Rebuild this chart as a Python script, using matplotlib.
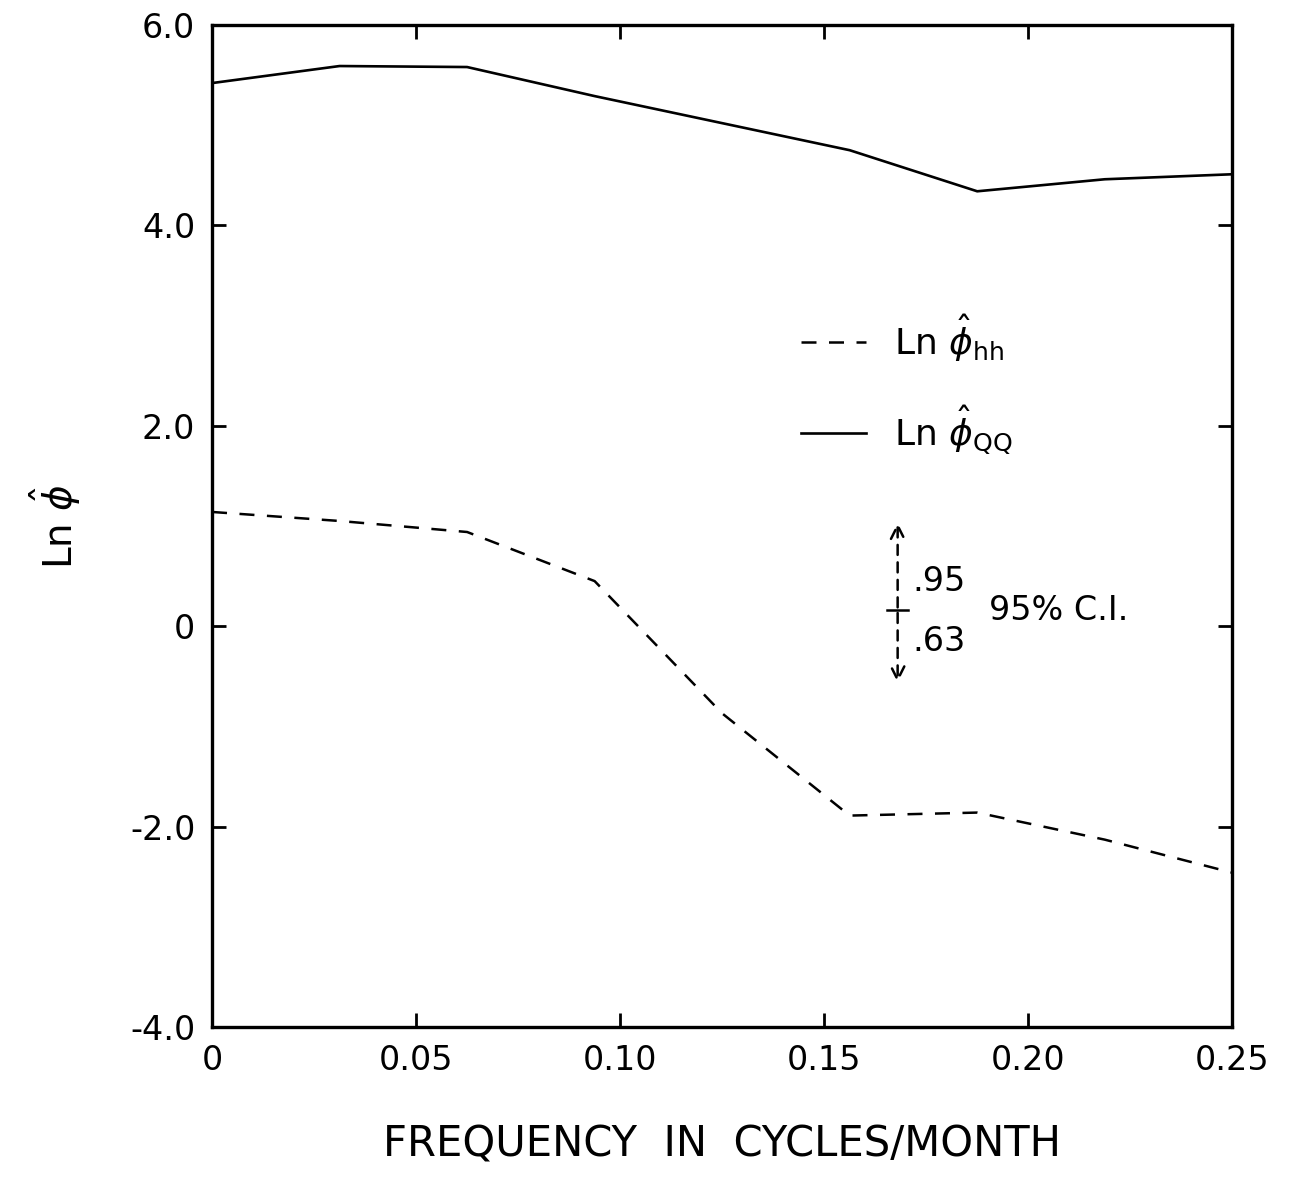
import matplotlib
matplotlib.use("Agg")
import matplotlib.pyplot as plt

# frequencies (cycles/month) and log spectra
freq = [0, 0.03125, 0.0625, 0.09375, 0.125, 0.15625, 0.1875, 0.21875, 0.25]
ln_phi_qq = [5.42, 5.59, 5.58, 5.29, 5.02, 4.75, 4.34, 4.46, 4.51]
ln_phi_hh = [1.14, 1.05, 0.94, 0.45, -0.87, -1.89, -1.86, -2.13, -2.46]

x_ticks = [0, 0.05, 0.10, 0.15, 0.20, 0.25]
x_labels = ["0", "0.05", "0.10", "0.15", "0.20", "0.25"]
y_ticks = [-4, -2, 0, 2, 4, 6]
y_labels = ["-4.0", "-2.0", "0", "2.0", "4.0", "6.0"]

plt.rcParams["font.family"] = ["DejaVu Sans"]

fig = plt.figure(figsize=(12.89, 11.88), dpi=100)
ax = fig.add_axes([0.1645, 0.1355, 0.7915, 0.8435])

ax.plot(freq, ln_phi_hh, color="black", lw=1.8, dashes=(6, 5),
        label=r"Ln $\hat{\phi}_{\mathrm{hh}}$")
ax.plot(freq, ln_phi_qq, color="black", lw=1.9,
        label=r"Ln $\hat{\phi}_{\mathrm{QQ}}$")

ax.set_xlim(0, 0.25)
ax.set_ylim(-4, 6)
ax.set_xticks(x_ticks)
ax.set_xticklabels(x_labels)
ax.set_yticks(y_ticks)
ax.set_yticklabels(y_labels)
ax.tick_params(direction="in", length=10, width=2, labelsize=24,
               top=True, right=True, pad=12)
for s in ax.spines.values():
    s.set_linewidth(2.4)

ax.set_xlabel("FREQUENCY  IN  CYCLES/MONTH", fontsize=30, labelpad=34)
ax.set_ylabel(r"Ln $\hat{\phi}$", fontsize=28, labelpad=34)

leg = ax.legend(frameon=False, loc="upper left", bbox_to_anchor=(0.545, 0.745),
                fontsize=26, handlelength=1.8, labelspacing=1.1,
                handletextpad=0.8)

# 95% confidence interval marker
xc, yc = 0.168, 0.16
ax.annotate("", xy=(xc, 1.06), xytext=(xc, yc),
            arrowprops=dict(arrowstyle="->", lw=1.8, ls=(0, (4, 3)),
                            color="black", mutation_scale=24))
ax.annotate("", xy=(xc, -0.59), xytext=(xc, yc),
            arrowprops=dict(arrowstyle="->", lw=1.8, ls=(0, (4, 3)),
                            color="black", mutation_scale=24))
ax.plot([xc - 0.0025, xc + 0.0025], [yc, yc], color="black", lw=1.8)
ax.text(xc + 0.0035, 0.45, ".95", fontsize=24, va="center", ha="left")
ax.text(xc + 0.0035, -0.15, ".63", fontsize=24, va="center", ha="left")
ax.text(0.1905, 0.16, "95% C.I.", fontsize=24, va="center", ha="left")

fig.savefig("out.png", dpi=100)
